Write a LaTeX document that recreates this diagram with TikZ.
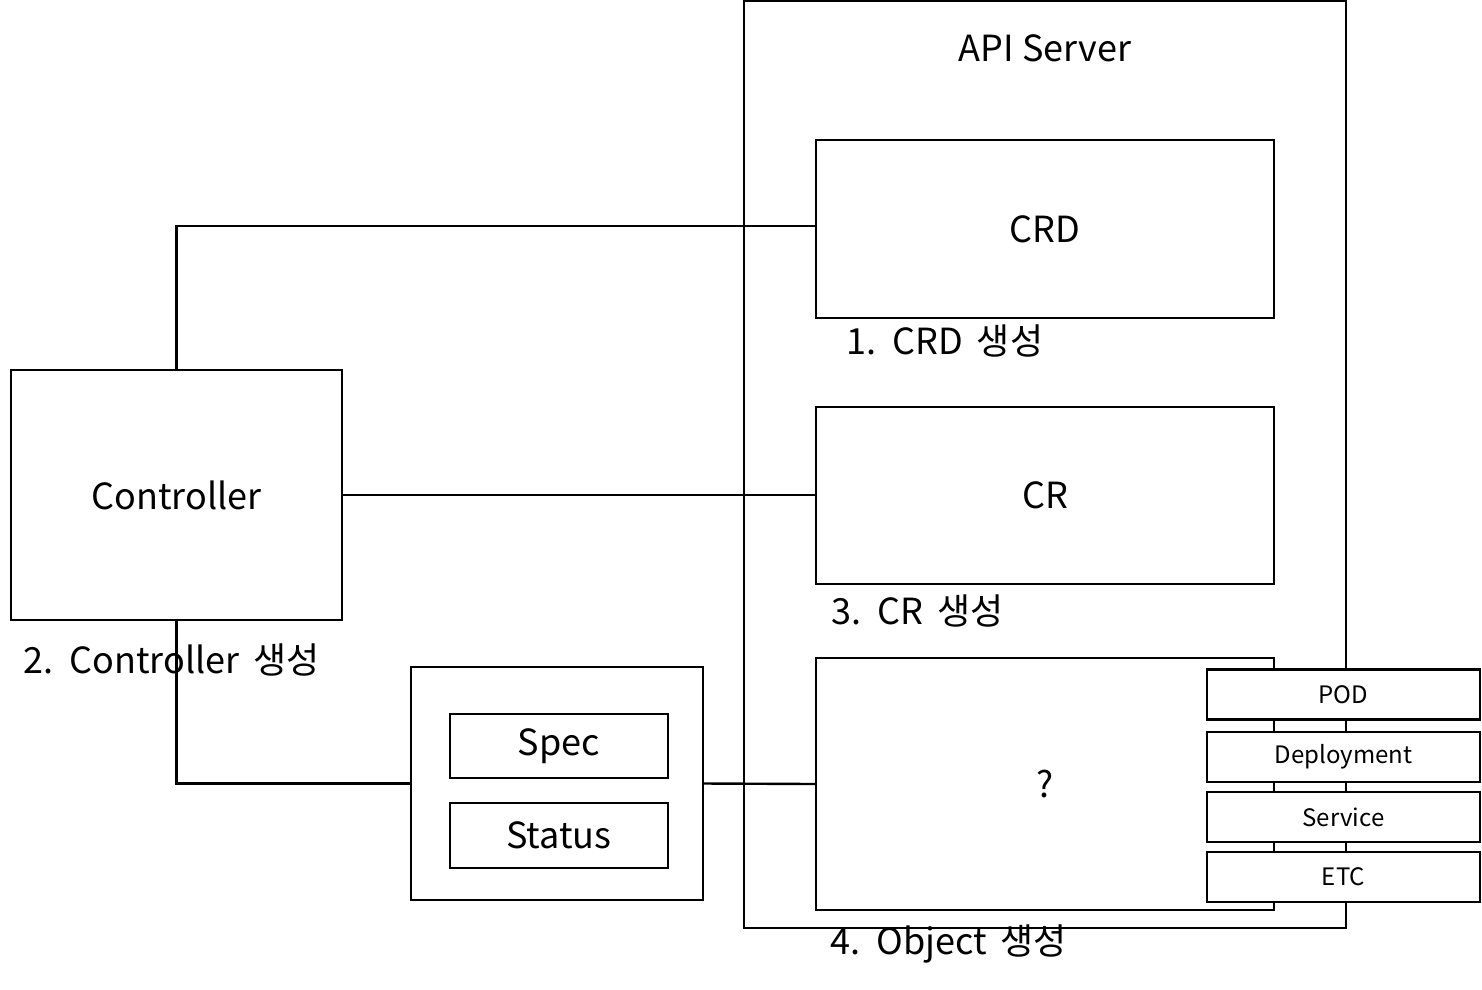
\documentclass[tikz,border=0pt]{standalone}
\usepackage{fontspec}
\setmainfont{Noto Sans CJK KR}
\newfontfamily\lblfont[WordSpace=1.7]{Noto Sans CJK KR}
\begin{document}
\begin{tikzpicture}[x=1pt,y=-1pt,
  box/.style={draw,line width=2.4pt,fill=white,rectangle,inner sep=0pt,font=\fontsize{36}{42}\selectfont},
  smallbox/.style={box,minimum width=273pt,minimum height=50pt,font=\fontsize{24}{28}\selectfont},
  lbl/.style={anchor=west,inner sep=0pt,font=\lblfont\fontsize{36}{42}\selectfont},
  conn/.style={line width=2.4pt}]
\useasboundingbox (0,0) rectangle (1482,989);
\node[box,minimum width=602pt,minimum height=927pt] (api) at (1045,464.5) {};
\node[inner sep=0pt,font=\fontsize{36}{42}\selectfont] (apit) at (1045,48) {API Server};
\node[box,minimum width=331pt,minimum height=250pt] (ctrl) at (176.5,495) {Controller};
\node[box,minimum width=292pt,minimum height=233pt] (res) at (557,783.5) {};
\draw[conn] (ctrl.north) |- (816,226) coordinate (crdin);
\draw[conn] (ctrl.east) -- (816,495);
\draw[conn] (ctrl.south) |- (res.west);
\node[box,minimum width=458pt,minimum height=178pt] (crd) at (1045,229) {CRD};
\node[box,minimum width=458pt,minimum height=177pt] (cr) at (1045,495.5) {CR};
\node[box,minimum width=458pt,minimum height=252pt] (obj) at (1045,784) {?};
\draw[conn] (res.east) -- (obj.west);
\node[box,minimum width=218pt,minimum height=64pt] (spec) at (559,746) {Spec};
\node[box,minimum width=218pt,minimum height=65pt] (status) at (559,835.5) {Status};
\node[smallbox] (pod) at (1343.5,694.5) {POD};
\node[smallbox] (dep) at (1343.5,757) {Deployment};
\node[smallbox] (svc) at (1343.5,817) {Service};
\node[smallbox] (etc) at (1343.5,877) {ETC};
\node[lbl] (l1) at (846,341) {1. CRD 생성};
\node[lbl] (l2) at (23,660) {2. Controller 생성};
\node[lbl] (l3) at (831,611) {3. CR 생성};
\node[lbl] (l4) at (830,944) {4. Object 생성};
\end{tikzpicture}
\end{document}
